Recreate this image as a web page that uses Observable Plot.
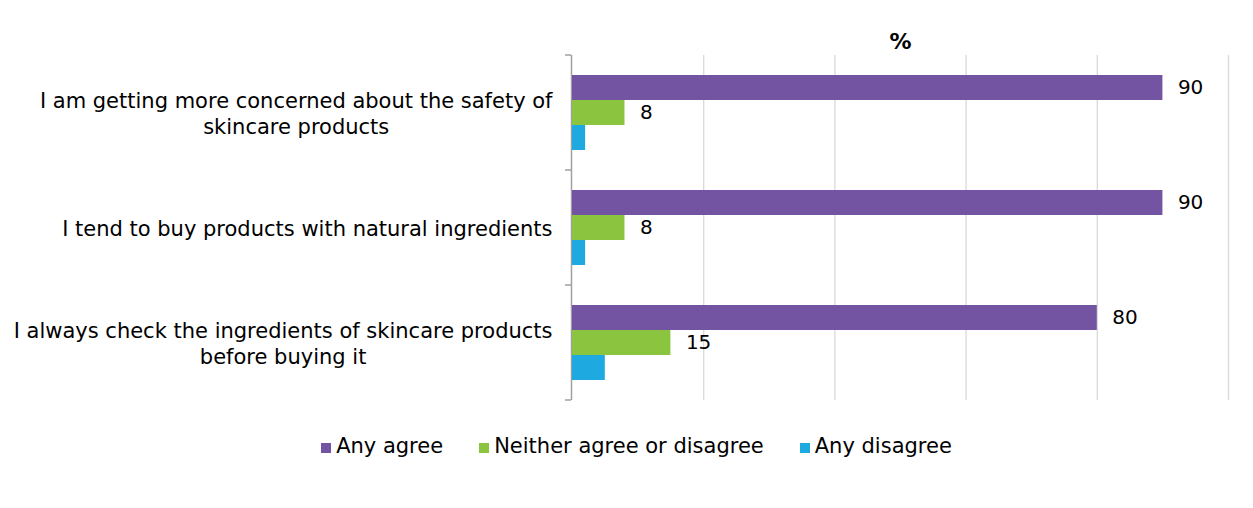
<!DOCTYPE html>
<html><head><meta charset="utf-8">
<script src="https://cdn.jsdelivr.net/npm/d3@7"></script>
<script src="https://cdn.jsdelivr.net/npm/@observablehq/plot@0.6"></script>
<style>
body{margin:0;background:#fff;font-family:"DejaVu Sans",Verdana,sans-serif;}
#legend{display:flex;justify-content:center;align-items:center;width:1253px;box-sizing:border-box;padding-left:20px;margin-top:14px;font-size:21px;line-height:24px;color:#000;}
#legend .item{display:flex;align-items:center;margin:0 18px;}
#legend .sw{width:10px;height:10px;margin-right:5px;margin-top:4px;}
</style></head><body><div id="chart"></div><div id="legend"></div>
<script>
const statements = [
  "I am getting more concerned about the safety of\nskincare products",
  "I tend to buy products with natural ingredients",
  "I always check the ingredients of skincare products\nbefore buying it"
];
const series = ["Any agree", "Neither agree or disagree", "Any disagree"];
const anyAgree = [90, 90, 80];
const neitherAgree = [8, 8, 15];
const anyDisagree = [2, 2, 5];
const colors = ["#7254a3", "#8bc540", "#1ea9e1"];
const gridTicks = [20, 40, 60, 80, 100];
const unitLabel = "%";
const labelledSeries = ["Any agree", "Neither agree or disagree"];

const values = [anyAgree, neitherAgree, anyDisagree];
const data = statements.flatMap((s, i) => series.map((k, j) => ({statement: s, series: k, value: values[j][i]})));

const FONT = "DejaVu Sans";
const FS = 20;
const LFS = 21;
const ctx = document.createElement("canvas").getContext("2d");
ctx.font = `${LFS}px "${FONT}"`;
const blockWidth = s => Math.max(...s.split("\n").map(l => ctx.measureText(l).width));

const labelMarks = statements.map(s => Plot.text([s], {
  fy: d => d, text: d => d, frameAnchor: "left", textAnchor: "middle",
  dx: -(20 + blockWidth(s) / 2), dy: 0, lineHeight: 1.2, fill: "#000", fontSize: LFS
}));

const chart = Plot.plot({
  width: 1253, height: 420,
  marginLeft: 572, marginRight: 25, marginTop: 54, marginBottom: 20,
  style: {fontFamily: FONT, fontSize: FS + "px", color: "#000", background: "#fff"},
  x: {domain: [0, 100], axis: null},
  y: {domain: series, axis: null, paddingInner: 0, paddingOuter: 0.73},
  fy: {domain: statements, padding: 0, axis: null},
  color: {domain: series, range: colors},
  marks: [
    Plot.gridX(gridTicks, {stroke: "#d9d9d9", strokeOpacity: 1, strokeWidth: 1.3}),
    Plot.ruleX([0], {stroke: "#a0a0a0", strokeWidth: 1.5, dx: -1}),
    Plot.barX(data, {fy: "statement", y: "series", x: "value", fill: "series"}),
    Plot.text(data.filter(d => labelledSeries.includes(d.series)), {
      fy: "statement", y: "series", x: "value", text: d => String(d.value),
      textAnchor: "start", dx: 15, fill: "#000"
    }),
    ...labelMarks,
    Plot.axisX({anchor: "top", ticks: [], tickSize: 0, label: unitLabel, labelAnchor: "center",
      labelOffset: 22, labelArrow: false, fontWeight: "bold", fontSize: 22, fill: "#000"})
  ]
});
document.getElementById("chart").appendChild(chart);

// category boundary ticks on the vertical axis, from Plot's own scales
const fy = chart.scale("fy"), xs = chart.scale("x");
const x0 = xs.apply(0);
const edges = statements.map(s => fy.apply(s)).concat([fy.apply(statements[statements.length - 1]) + fy.bandwidth]);
d3.select(chart).append("g").selectAll("line").data(edges).join("line")
  .attr("x1", x0 - 7).attr("x2", x0 - 1).attr("y1", d => d).attr("y2", d => d)
  .attr("stroke", "#a0a0a0").attr("stroke-width", 1.5);

const legend = d3.select("#legend");
series.forEach((s, i) => {
  const it = legend.append("div").attr("class", "item");
  it.append("div").attr("class", "sw").style("background", colors[i]);
  it.append("span").text(s);
});
</script></body></html>
